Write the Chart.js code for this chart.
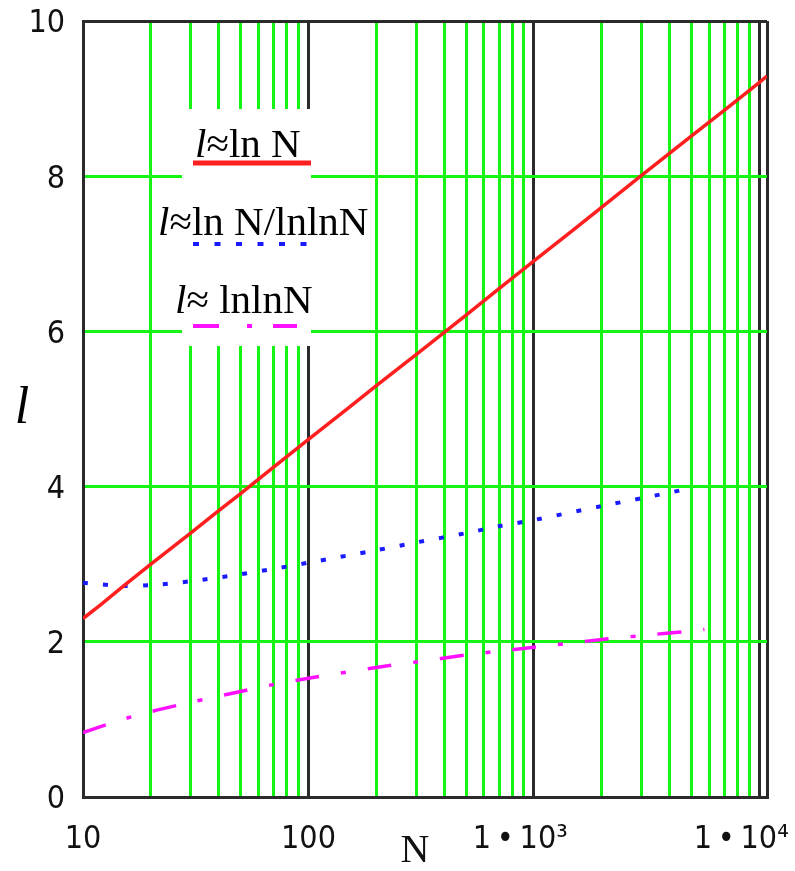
<!DOCTYPE html>
<html><head><meta charset="utf-8">
<script src="https://cdn.jsdelivr.net/npm/chart.js@4/dist/chart.umd.min.js"></script>
<style>html,body{margin:0;padding:0;background:#fff;} #wrap{width:795px;height:871px;position:relative;}</style>
</head><body><div id="wrap"><canvas id="c" width="795" height="871"></canvas></div>
<script>
// ---- data ----
const nRed = [10, 12, 15, 20, 30, 40, 50, 70, 100, 150, 200, 300, 500, 700, 1000, 1500, 2000, 3000, 5000, 7000, 10000, 10800];
const lnN = [2.30, 2.48, 2.71, 3.00, 3.40, 3.69, 3.91, 4.25, 4.61, 5.01, 5.30, 5.70, 6.21, 6.55, 6.91, 7.31, 7.60, 8.01, 8.52, 8.85, 9.21, 9.29];
const nBlue = [10, 15, 20, 30, 50, 70, 100, 200, 300, 500, 700, 1000, 2000, 3000, 5000];
const lnOverLnln = [2.76, 2.72, 2.73, 2.78, 2.87, 2.94, 3.02, 3.18, 3.28, 3.40, 3.49, 3.57, 3.75, 3.85, 3.98];
const nMag = [10, 15, 20, 30, 50, 70, 100, 200, 300, 500, 700, 1000, 2000, 3000, 5000, 5700];
const lnlnN = [0.83, 1.00, 1.10, 1.22, 1.36, 1.45, 1.53, 1.67, 1.74, 1.83, 1.88, 1.93, 2.03, 2.08, 2.14, 2.16];

const xTicks = [10, 20, 30, 40, 50, 60, 70, 80, 90,
                100, 200, 300, 400, 500, 600, 700, 800, 900,
                1000, 2000, 3000, 4000, 5000, 6000, 7000, 8000, 9000,
                10000, 10800];
const xDecades = [10, 100, 1000, 10000];
const xTickLabels = ['10', '100', '1\u202F\u2022\u202F10\u00B3   ', '1\u202F\u2022\u202F10\u2074    '];
const xMin = 10, xMax = 10800;
const yTicks = [0, 2, 4, 6, 8, 10];
const xTitle = 'N  ';
const yTitle = 'l';
const legendRest = ['\u2248ln N', '\u2248ln N/lnlnN', '\u2248 lnlnN'];

// ---- styles ----
const GREEN = '#14f514';
const BLACK = '#2b2b2b';
const TICKFONT = '"DejaVu Sans Condensed", "DejaVu Sans", sans-serif';
const SERIF = '"Liberation Serif", "Times New Roman", serif';

const pts = (xs, ys) => xs.map((x, i) => ({x: x, y: ys[i]}));

const decor = {
  id: 'decor',
  beforeDatasetsDraw(chart) {
    const ctx = chart.ctx;
    ctx.save();
    ctx.fillStyle = '#fff';
    ctx.fillRect(182, 109, 129, 237);
    ctx.restore();
  },
  afterDraw(chart) {
    const ctx = chart.ctx;
    ctx.save();
    ctx.fillStyle = '#000';
    ctx.textBaseline = 'alphabetic';
    ctx.textAlign = 'left';
    const rows = [[195, 157], [158, 235], [175, 313]];
    rows.forEach((r, i) => {
      ctx.font = 'italic 41px ' + SERIF;
      ctx.fillText('l', r[0], r[1]);
      const w = ctx.measureText('l').width;
      ctx.font = '41px ' + SERIF;
      ctx.fillText(legendRest[i], r[0] + w, r[1]);
    });
    // samples
    ctx.lineCap = 'butt';
    ctx.strokeStyle = '#ff2020';
    ctx.lineWidth = 5;
    ctx.beginPath(); ctx.moveTo(193, 163); ctx.lineTo(311, 163); ctx.stroke();
    ctx.strokeStyle = '#1a1aff';
    ctx.lineWidth = 4;
    ctx.setLineDash([6, 15.5]);
    ctx.beginPath(); ctx.moveTo(193, 244); ctx.lineTo(310, 244); ctx.stroke();
    ctx.strokeStyle = '#ff10ff';
    ctx.setLineDash([26, 28, 5, 21, 24, 100]);
    ctx.beginPath(); ctx.moveTo(193, 326); ctx.lineTo(297, 326); ctx.stroke();
    ctx.setLineDash([]);
    // y title
    ctx.font = 'italic 52px ' + SERIF;
    ctx.textAlign = 'center';
    ctx.fillText(yTitle, 22, 423);
    ctx.restore();
  }
};

new Chart(document.getElementById('c'), {
  type: 'line',
  data: {
    datasets: [
      {data: pts(nRed, lnN), borderColor: '#ff1f1f', borderWidth: 3.5, pointRadius: 0, tension: 0},
      {data: pts(nBlue, lnOverLnln), borderColor: '#1a1aff', borderWidth: 4, borderDash: [5, 15], pointRadius: 0, tension: 0.3},
      {data: pts(nMag, lnlnN), borderColor: '#ff10ff', borderWidth: 3.5, borderDash: [24, 22, 5, 22], pointRadius: 0, tension: 0.3}
    ]
  },
  options: {
    responsive: false,
    animation: false,
    devicePixelRatio: 1,
    layout: {padding: {top: 21, right: 28, left: 0, bottom: 0}},
    plugins: {legend: {display: false}, tooltip: {enabled: false}},
    scales: {
      x: {
        type: 'logarithmic',
        min: xMin, max: xMax,
        afterBuildTicks: (s) => { s.ticks = xTicks.map(v => ({value: v})); },
        afterFit: (s) => { s.height = 74; s.paddingLeft = 0; s.paddingRight = 0; },
        grid: {
          drawTicks: false,
          lineWidth: 3,
          color: (c) => (xDecades.includes(c.tick.value) || c.tick.value === xMax) ? BLACK : GREEN
        },
        border: {display: true, color: BLACK, width: 3},
        ticks: {
          autoSkip: false, maxRotation: 0, minRotation: 0, padding: 23,
          color: '#111',
          font: {family: TICKFONT, size: 32},
          callback: (v) => { const i = xDecades.indexOf(v); return i >= 0 ? xTickLabels[i] : ''; }
        },
        title: {
          display: true, text: xTitle, color: '#111',
          font: {family: SERIF, size: 40, lineHeight: 1.0},
          padding: {top: 0, bottom: 0}
        }
      },
      y: {
        min: 0, max: 10,
        afterBuildTicks: (s) => { s.ticks = yTicks.map(v => ({value: v})); },
        afterFit: (s) => { s.width = 83; s.paddingTop = 0; s.paddingBottom = 0; },
        grid: {
          drawTicks: false,
          lineWidth: 3,
          color: (c) => (c.tick.value === 0 || c.tick.value === 10) ? BLACK : GREEN
        },
        border: {display: true, color: BLACK, width: 3},
        ticks: {
          padding: 18, color: '#111', labelOffset: 3,
          font: {family: TICKFONT, size: 32},
          callback: (v) => String(v)
        }
      }
    }
  },
  plugins: [decor]
});
</script>
</body></html>
